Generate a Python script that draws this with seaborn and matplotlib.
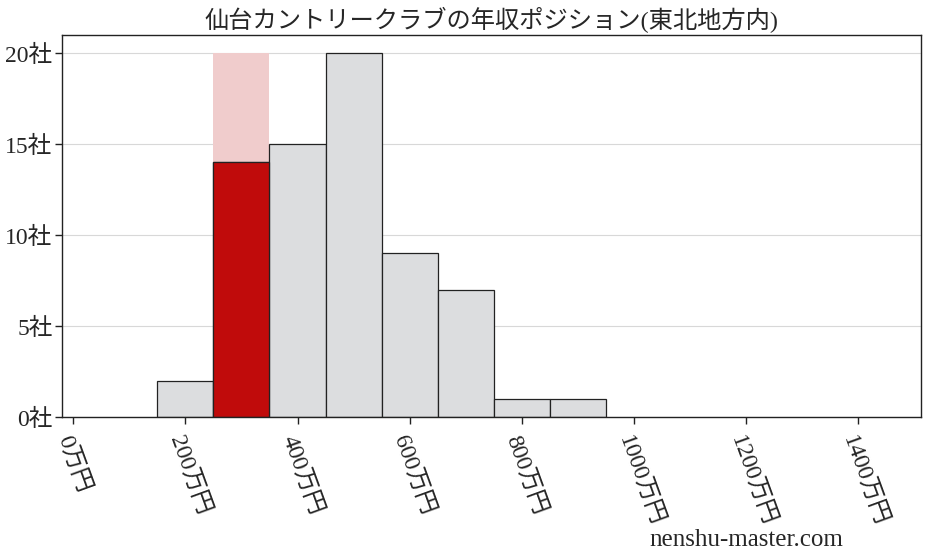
import matplotlib
matplotlib.use("Agg")
import matplotlib.pyplot as plt
import seaborn as sns
import numpy as np

# histogram of annual income (万円) per company
bin_edges = [150, 250, 350, 450, 550, 650, 750, 850, 950]
counts = [2, 14, 15, 20, 9, 7, 1, 1]
highlight_bin = 1  # 250-350 bin, where the company sits
x_ticks = [0, 200, 400, 600, 800, 1000, 1200, 1400]
y_ticks = [0, 5, 10, 15, 20]
title = "仙台カントリークラブの年収ポジション(東北地方内)"

sns.set_style("white")
plt.rcParams['font.family'] = ['Liberation Serif', 'Noto Sans CJK JP', 'DejaVu Sans']

centers = [(bin_edges[i] + bin_edges[i + 1]) / 2 for i in range(len(counts))]

fig, ax = plt.subplots(figsize=(9.28, 5.57), dpi=100)

# pink band behind the highlighted bin, up to the max count
hl_center = [centers[highlight_bin]]
hl_edges = bin_edges[highlight_bin:highlight_bin + 2]
sns.histplot(x=hl_center, weights=[max(counts)], bins=hl_edges, ax=ax,
             color="#f0cccc", alpha=1, edgecolor="none", linewidth=0)

# all bins in gray
sns.histplot(x=centers, weights=counts, bins=bin_edges, ax=ax,
             color="#dcdddf", alpha=1, edgecolor="#222222", linewidth=0.9)

# the highlighted bin in red
sns.histplot(x=hl_center, weights=[counts[highlight_bin]], bins=hl_edges, ax=ax,
             color="#c00b0b", alpha=1, edgecolor="#222222", linewidth=0.9)

ax.set_xlim(-20, 1512)
ax.set_ylim(0, 21)
ax.set_xticks(x_ticks)
ax.set_xticklabels([f"{v}万円" for v in x_ticks], rotation=-70, ha="left",
                   rotation_mode="anchor", fontsize=17)
ax.set_yticks(y_ticks)
ax.set_yticklabels([f"{v}社" for v in y_ticks], fontsize=17)
ax.tick_params(axis="both", length=5, width=1, color="#222222", direction="out",
               bottom=True, left=True)
ax.tick_params(axis="x", pad=6)
ax.tick_params(axis="y", pad=2)
ax.set_axisbelow(True)
ax.grid(axis="y", color="#d8d8d8", linewidth=0.8)
ax.set_xlabel("")
ax.set_ylabel("")
for s in ax.spines.values():
    s.set_color("#222222")
    s.set_linewidth(1.0)

ax.set_title(title, fontsize=17.5, pad=5)
fig.text(0.70, 0.02, "nenshu-master.com", fontsize=18)

fig.subplots_adjust(left=0.067, right=0.992, top=0.937, bottom=0.251)
fig.savefig("out.png", dpi=100)
